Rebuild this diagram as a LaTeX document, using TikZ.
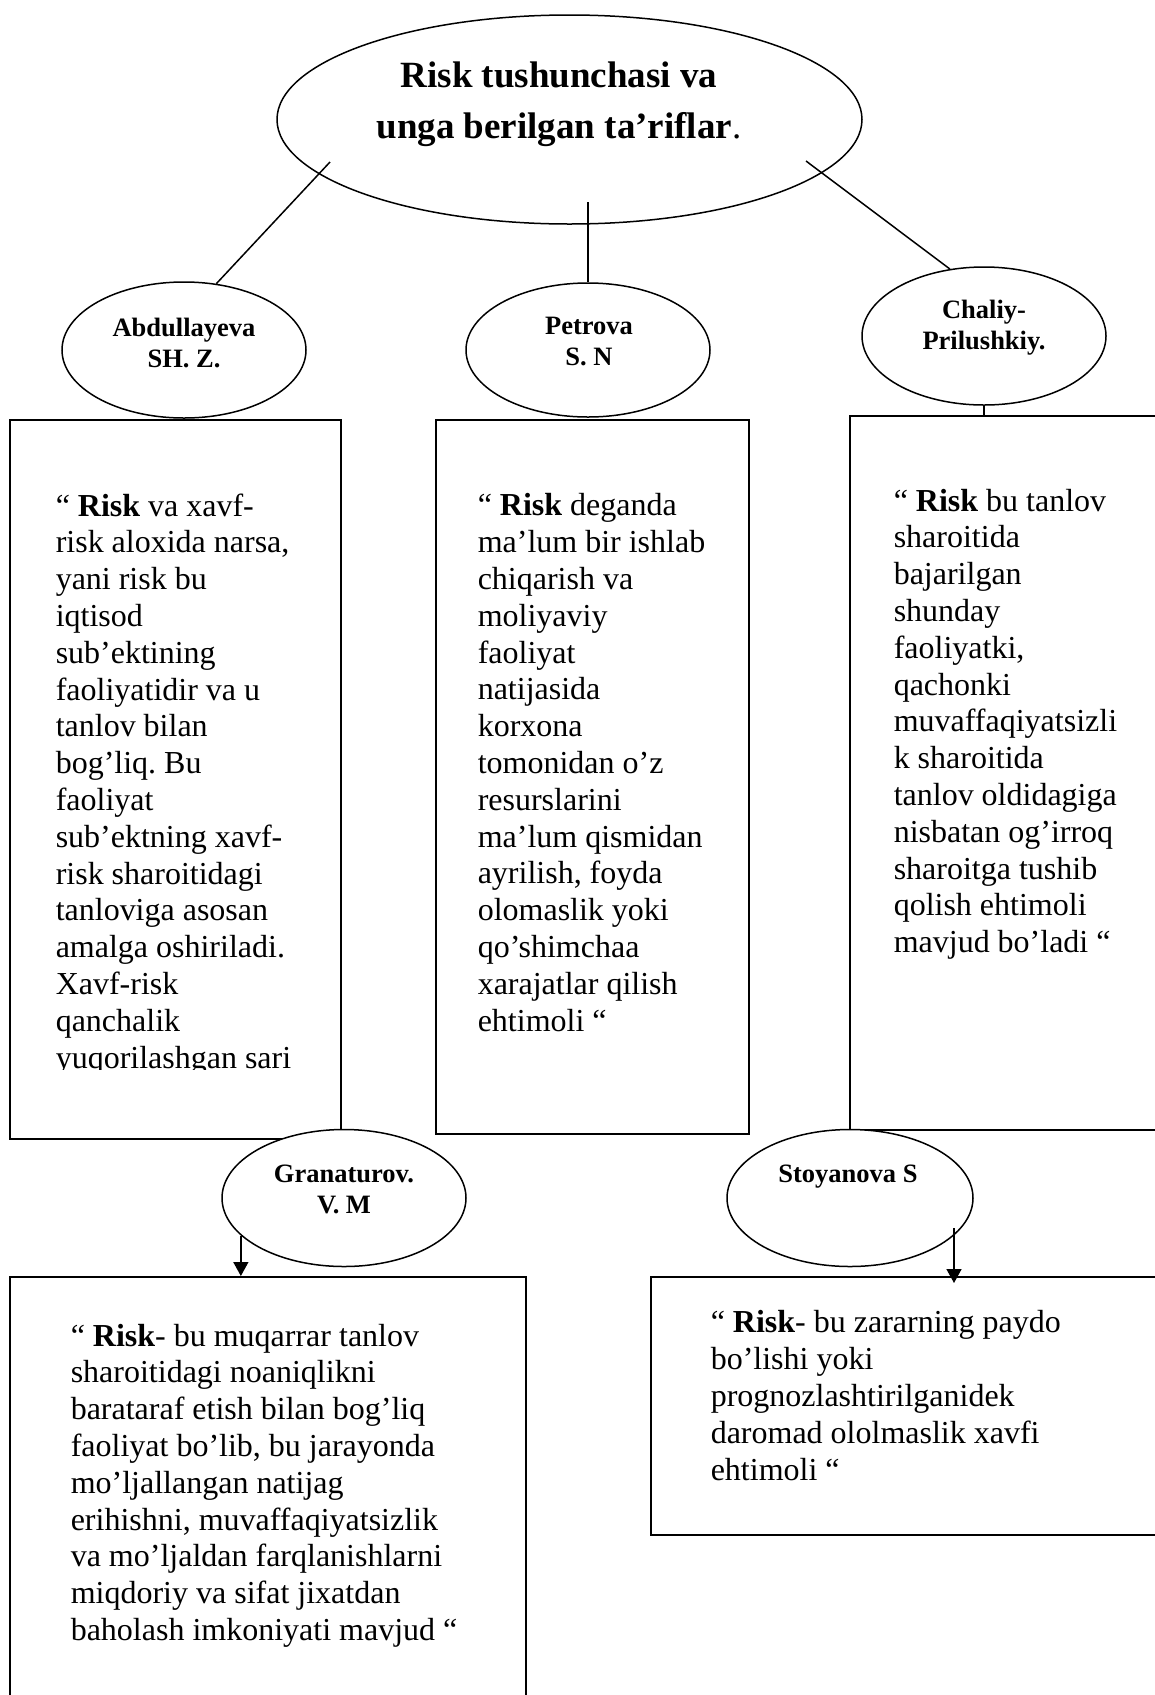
\documentclass[tikz,border=0pt]{standalone}
\usepackage{fontspec}
\setmainfont{Liberation Serif}
\usetikzlibrary{shapes.geometric,arrows.meta}
\frenchspacing
\begin{document}
\begin{tikzpicture}[x=1pt,y=-1pt,line width=1.5pt,
  oval/.style={draw, fill=white, ellipse, inner sep=0pt},
  boxnode/.style={draw, rectangle, inner sep=0pt, anchor=north west},
  body/.style={anchor=base west, align=left, inner sep=0pt, font=\fontsize{32}{36.8}\selectfont},
  namelbl/.style={anchor=base, align=center, inner sep=0pt, font=\fontsize{26.5}{31}\selectfont\bfseries},
  titlelbl/.style={anchor=base, align=center, inner sep=0pt, font=\fontsize{37}{51}\selectfont\bfseries},
  arr/.style={-{Triangle[length=14pt,width=15pt]}}]
\useasboundingbox (0,0) rectangle (1155,1695);

% boxes
\node[boxnode, minimum width=331pt, minimum height=719pt] (b1) at (9,419) {};
\node[boxnode, minimum width=313pt, minimum height=714pt] (b2) at (435,419) {};
\node[boxnode, minimum width=330pt, minimum height=714pt] (b3) at (849,415) {};
\node[boxnode, minimum width=516pt, minimum height=440pt] (b4) at (9,1276) {};
\node[boxnode, minimum width=530pt, minimum height=258pt] (b5) at (650,1276) {};

% box texts (anchor = baseline of the last line)
\begin{scope}
\clip (0,419) rectangle (345,1069);
\node[body] (t1) at (55,1068) {“ \textbf{Risk} va xavf-\\risk aloxida narsa,\\yani risk bu\\iqtisod\\sub’ektining\\faoliyatidir va u\\tanlov bilan\\bog’liq. Bu\\faoliyat\\sub’ektning xavf-\\risk sharoitidagi\\tanloviga asosan\\amalga oshiriladi.\\Xavf-risk\\qanchalik\\yuqorilashgan sari};
\end{scope}
\node[body] (t2) at (477,1031) {“ \textbf{Risk} deganda\\ma’lum bir ishlab\\chiqarish va\\moliyaviy\\faoliyat\\natijasida\\korxona\\tomonidan o’z\\resurslarini\\ma’lum qismidan\\ayrilish, foyda\\olomaslik yoki\\qo’shimchaa\\xarajatlar qilish\\ehtimoli “};
\node[body] (t3) at (893,952.6) {“ \textbf{Risk} bu tanlov\\sharoitida\\bajarilgan\\shunday\\faoliyatki,\\qachonki\\muvaffaqiyatsizli\\k sharoitida\\tanlov oldidagiga\\nisbatan og’irroq\\sharoitga tushib\\qolish ehtimoli\\mavjud bo’ladi “};
\node[body] (t4) at (70,1640.4) {“ \textbf{Risk}- bu muqarrar tanlov\\sharoitidagi noaniqlikni\\barataraf etish bilan bog’liq\\faoliyat bo’lib, bu jarayonda\\mo’ljallangan natijag\\erihishni, muvaffaqiyatsizlik\\va mo’ljaldan farqlanishlarni\\miqdoriy va sifat jixatdan\\baholash imkoniyati mavjud “};
\node[body] (t5) at (710,1480) {“ \textbf{Risk}- bu zararning paydo\\bo’lishi yoki\\prognozlashtirilganidek\\daromad ololmaslik xavfi\\ehtimoli “};

% ellipses
\node[oval, minimum width=585pt, minimum height=209pt] (top) at (569.5,119.5) {};
\node[oval, minimum width=244pt, minimum height=136pt] (abd) at (184,350) {};
\node[oval, minimum width=244pt, minimum height=134pt] (pet) at (588,350) {};
\node[oval, minimum width=244pt, minimum height=138pt] (cha) at (984,336) {};
\node[oval, minimum width=244pt, minimum height=137pt] (gra) at (344,1198) {};
\node[oval, minimum width=246pt, minimum height=137pt] (sto) at (850,1198) {};

% labels (anchor = baseline of the last line)
\node[titlelbl] (title) at (559,138) {Risk tushunchasi va\\unga berilgan ta’riflar\textmd{.}};
\node[namelbl] (abdl) at (184,367) {Abdullayeva\\SH. Z.};
\node[namelbl] (petl) at (589,365) {Petrova\\S. N};
\node[namelbl] (chal) at (984,349) {Chaliy-\\Prilushkiy.};
\node[namelbl] (gral) at (344,1213) {Granaturov.\\V. M};
\node[namelbl] (stol) at (848,1182) {Stoyanova S};

% connectors
\coordinate (s1) at (330,162);
\coordinate (s2) at (588,202);
\coordinate (s3) at (806,161);
\draw (s1) -- (abd.64);
\draw (s2) -- (pet.north);
\draw (s3) -- (cha.117);
\draw (cha.south) -- (cha.south |- b3.north);
\draw[arr] (gra.200) -- (gra.200 |- b4.north);
\coordinate (sa) at (954,1228);
\coordinate (se) at (954,1283);
\draw[arr] (sa) -- (se);
\end{tikzpicture}
\end{document}
